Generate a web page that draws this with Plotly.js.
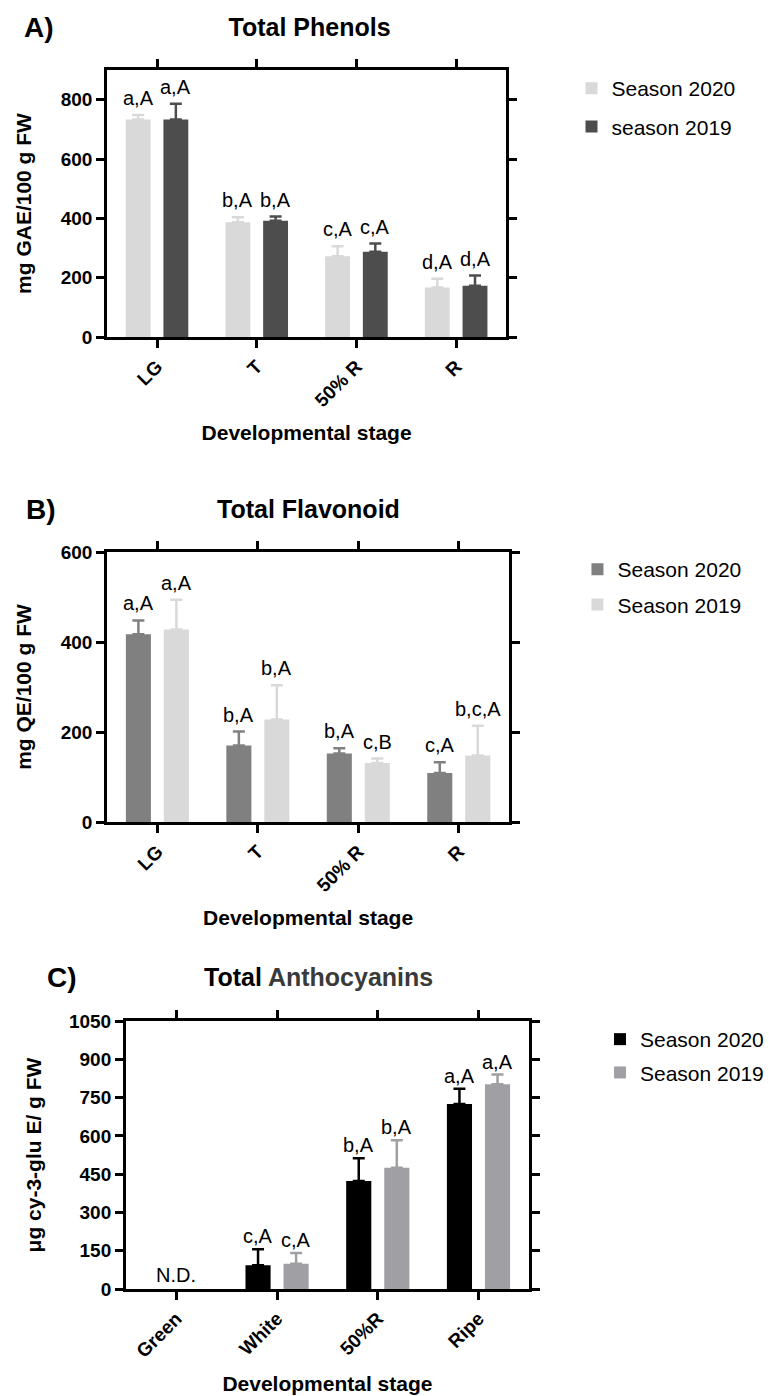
<!DOCTYPE html>
<html><head><meta charset="utf-8">
<script src="https://cdn.plot.ly/plotly-3.0.1.min.js"></script>
<style>html,body{margin:0;padding:0;background:#fff}#chart{width:769px;height:1396px}</style>
</head><body><div id="chart"></div>
<script>
// ---------- Panel A: Total Phenols ----------
const stagesA = ['LG', 'T', '50% R', 'R'];
const phen2020 = [733, 387, 272, 167];
const phen2020Err = [15, 17, 34, 29];
const phen2019 = [733, 392, 287, 173];
const phen2019Err = [53, 14, 28, 34];
const phenLab2020 = ['a,A', 'b,A', 'c,A', 'd,A'];
const phenLab2019 = ['a,A', 'b,A', 'c,A', 'd,A'];

// ---------- Panel B: Total Flavonoid ----------
const stagesB = ['LG', 'T', '50% R', 'R'];
const flav2020 = [417, 170, 152, 109];
const flav2020Err = [31, 31, 12, 24];
const flav2019 = [428, 228, 131, 148];
const flav2019Err = [66, 76, 10, 66];
const flavLab2020 = ['a,A', 'b,A', 'b,A', 'c,A'];
const flavLab2019 = ['a,A', 'b,A', 'c,B', 'b,c,A'];

// ---------- Panel C: Total Anthocyanins ----------
const stagesC = ['Green', 'White', '50%R', 'Ripe'];
const anth2020 = [null, 93, 423, 725];
const anth2020Err = [null, 63, 89, 60];
const anth2019 = [null, 99, 475, 802];
const anth2019Err = [null, 42, 108, 38];
const anthLab2020 = ['', 'c,A', 'b,A', 'a,A'];
const anthLab2019 = ['', 'c,A', 'b,A', 'a,A'];
const ndLabel = 'N.D.';

// ---------- Layout constants ----------
const F = 'Liberation Sans, Arial, Helvetica, sans-serif';
const W = 769, H = 1396;
const OFF = 0.189;
const TICK = 19, LAB = 20, AXT = 21, LEG = 21, TTL = 25, LET = 28;

const panels = [
  {cats: stagesA, title: 'Total Phenols', letter: 'A)', ytitle: 'mg GAE/100 g FW',
   s1: {name: 'Season 2020', y: phen2020, e: phen2020Err, lab: phenLab2020, color: '#d9d9d9'},
   s2: {name: 'season 2019', y: phen2019, e: phen2019Err, lab: phenLab2019, color: '#4d4d4d'},
   box: [108, 510, 70, 337], range: [0, 900], dtick: 200, titleY: 27, titleX: 312, letterX: 22,
   legendLeft: 576, legendTop: 68, gap: 8, labShift: 4, ystand: 24},
  {cats: stagesB, title: 'Total Flavonoid', letter: 'B)', ytitle: 'mg QE/100 g FW',
   s1: {name: 'Season 2020', y: flav2020, e: flav2020Err, lab: flavLab2020, color: '#808080'},
   s2: {name: 'Season 2019', y: flav2019, e: flav2019Err, lab: flavLab2019, color: '#d9d9d9'},
   box: [108, 513, 552, 822], range: [0, 600], dtick: 200, titleY: 509, titleX: 311, letterX: 24,
   legendLeft: 582, legendTop: 549, gap: 5, labShift: 4, ystand: 24},
  {cats: stagesC, title: 'Total <span style="color:#3a3a3a">Anthocyanins</span>', letter: 'C)', ytitle: 'μg cy-3-glu E/ g FW',
   s1: {name: 'Season 2020', y: anth2020, e: anth2020Err, lab: anthLab2020, color: '#000000'},
   s2: {name: 'Season 2019', y: anth2019, e: anth2019Err, lab: anthLab2019, color: '#a0a0a4'},
   box: [127, 533, 1021, 1289], range: [0, 1050], dtick: 150, titleY: 977, titleX: 321, letterX: 45,
   legendLeft: 605, legendTop: 1019, gap: 3, labShift: 0, ystand: 22}
];

const traces = [];
const annotations = [];
const layout = {
  width: W, height: H,
  margin: {l: 0, r: 0, t: 0, b: 0},
  paper_bgcolor: '#ffffff', plot_bgcolor: '#ffffff',
  barmode: 'group', bargap: 0.244, bargroupgap: 0.34,
  font: {family: F, color: '#000'},
  showlegend: true,
  annotations: annotations
};

panels.forEach((p, idx) => {
  const k = idx === 0 ? '' : String(idx + 1);
  const xr = 'x' + k, yr = 'y' + k;
  const legKey = 'legend' + k;
  [[p.s1, -OFF], [p.s2, OFF]].forEach(([s, off], j) => {
    traces.push({
      type: 'bar', x: p.cats, y: s.y, name: s.name,
      xaxis: xr, yaxis: yr, legend: legKey, legendgroup: 'g' + idx + '_' + j,
      marker: {color: s.color, line: {width: 0}},
      error_y: {type: 'data', array: s.e, arrayminus: s.e.map(() => 0), symmetric: false,
                visible: true, color: s.color, thickness: 2.5, width: 6},
      hoverinfo: 'skip'
    });
    s.lab.forEach((t, i) => {
      if (!t) return;
      annotations.push({xref: xr, yref: yr, x: i + off, y: s.y[i] + s.e[i], text: t,
        showarrow: false, xanchor: 'center', yanchor: 'bottom', yshift: p.labShift,
        font: {family: F, size: LAB, color: '#000'}});
    });
  });
  const [x0, x1, t, b] = p.box;
  layout['xaxis' + k] = {
    domain: [x0 / W, x1 / W], anchor: yr, type: 'category', range: [-0.5, 3.5],
    showline: true, linewidth: 3, linecolor: '#000', mirror: 'ticks',
    ticks: 'outside', ticklen: 8, tickwidth: 3, tickcolor: '#000', tickangle: -45,
    tickfont: {family: F, size: TICK, weight: 'bold', color: '#000'},
    showgrid: false, zeroline: false, fixedrange: true,
    title: {text: 'Developmental stage', standoff: 16, font: {family: F, size: AXT, weight: 'bold', color: '#000'}}
  };
  layout['yaxis' + k] = {
    domain: [1 - b / H, 1 - t / H], anchor: xr, range: p.range, tick0: 0, dtick: p.dtick,
    showline: true, linewidth: 3, linecolor: '#000', mirror: 'ticks',
    ticks: 'outside', ticklen: 8, tickwidth: 3, tickcolor: '#000',
    tickfont: {family: F, size: TICK, weight: 'bold', color: '#000'},
    showgrid: false, zeroline: false, fixedrange: true,
    title: {text: p.ytitle, standoff: p.ystand, font: {family: F, size: AXT, weight: 'bold', color: '#000'}}
  };
  layout[legKey] = {
    x: p.legendLeft / W, xanchor: 'left', y: 1 - p.legendTop / H, yanchor: 'top',
    font: {family: F, size: LEG, color: '#000'}, bgcolor: 'rgba(0,0,0,0)',
    traceorder: 'grouped', tracegroupgap: p.gap, itemwidth: 30
  };
  annotations.push({xref: 'paper', yref: 'paper', x: p.letterX / W, y: 1 - p.titleY / H,
    xanchor: 'left', yanchor: 'middle', text: p.letter, showarrow: false,
    font: {family: F, size: LET, weight: 'bold', color: '#000'}});
  if (idx > 0) {
    annotations.push({xref: 'paper', yref: 'paper', x: p.titleX / W, y: 1 - p.titleY / H,
      xanchor: 'center', yanchor: 'middle', text: '<b>' + p.title + '</b>', showarrow: false,
      font: {family: F, size: TTL, color: '#000'}});
  }
});

annotations.push({xref: 'x3', yref: 'y3', x: 0, y: 0, text: ndLabel, showarrow: false,
  yanchor: 'bottom', yshift: 1, font: {family: F, size: LAB, color: '#000'}});

layout.title = {text: '<b>' + panels[0].title + '</b>', x: panels[0].titleX / W, xanchor: 'center',
  xref: 'paper', y: 1 - panels[0].titleY / H, yanchor: 'middle', yref: 'container',
  font: {family: F, size: TTL, color: '#000'}};

Plotly.newPlot('chart', traces, layout, {staticPlot: true, displayModeBar: false});
</script>
</body></html>
